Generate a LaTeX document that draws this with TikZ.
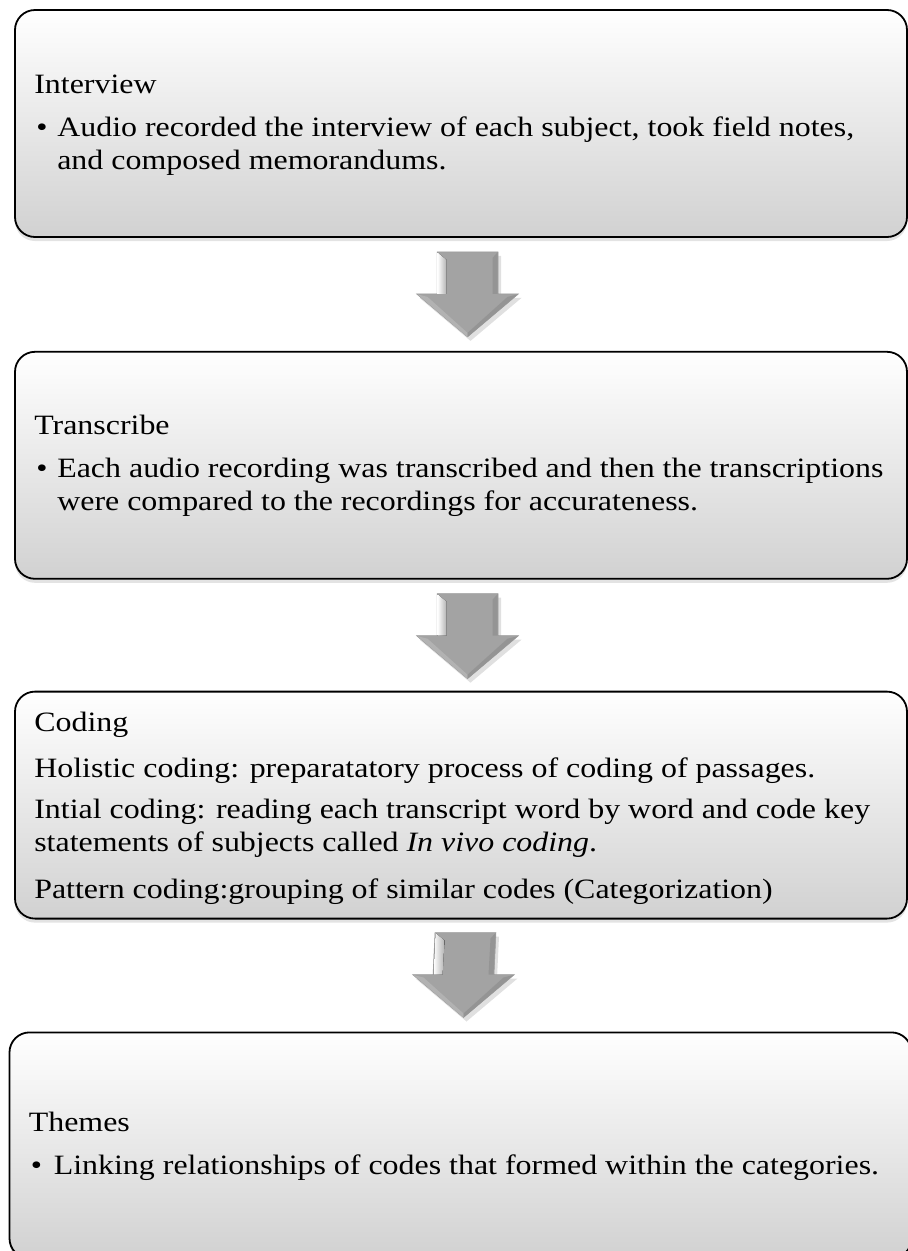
\documentclass[tikz,border=0pt]{standalone}
\usepackage{fontspec}
\setmainfont[FakeStretch=1.14]{Liberation Serif}
\usetikzlibrary{positioning,calc,shadows}

\tikzset{
  stage/.style={draw=black, line width=1.8pt, rounded corners=20pt,
    minimum width=892pt, minimum height=227pt, inner sep=0pt,
    top color=white, middle color=white, bottom color=black!18,
    drop shadow={shadow xshift=0pt, shadow yshift=-4pt, opacity=0.22}},
  stagetext/.style={anchor=base west, inner sep=0pt, align=left,
    font=\fontsize{28}{33}\selectfont},
  arrowbody/.style={fill=black!36, draw=black!40, line width=0.5pt},
  arrowlight/.style={left color=white, right color=black!30},
  arrowdark/.style={fill=black!42},
  arrowshade/.style={fill=black, opacity=0.12}
}

% block arrow from shaft top (#1) to tip (#2)
\newcommand\blockarrow[2]{%
  \fill[arrowshade] ($(#1)+(-27.5,4)$) -- ($(#1)+(33.5,4)$) -- ($(#2)+(33.5,-39)$)
    -- ($(#2)+(54,-39)$) -- ($(#2)+(3,4)$) -- ($(#2)+(-48,-39)$) -- ($(#2)+(-27.5,-39)$) -- cycle;
  \path[arrowbody] ($(#1)+(-30.5,0)$) -- ($(#1)+(30.5,0)$) -- ($(#2)+(30.5,-43)$)
    -- ($(#2)+(51,-43)$) -- (#2) -- ($(#2)+(-51,-43)$) -- ($(#2)+(-30.5,-43)$) -- cycle;
  \fill[arrowlight] ($(#1)+(-30,0.5)$) -- ($(#1)+(-21,8)$) -- ($(#2)+(-21,-43)$) -- ($(#2)+(-30,-43)$) -- cycle;
  \fill[arrowdark] ($(#1)+(30,0.5)$) -- ($(#1)+(25,6)$) -- ($(#2)+(25,-43)$) -- ($(#2)+(30,-43)$) -- cycle;
  \fill[black!30] ($(#2)+(-50,-42.5)$) -- ($(#2)+(-40,-40)$) -- ($(#2)+(0,-4)$) -- (#2) -- cycle;
  \fill[black!42] ($(#2)+(50,-42.5)$) -- ($(#2)+(40,-40)$) -- ($(#2)+(0,-4)$) -- (#2) -- cycle;
}

\begin{document}
\begin{tikzpicture}[x=1pt,y=-1pt]
  \useasboundingbox (0,0) rectangle (908,1251);

  \node[stage] (interview) at (461,123.5) {};
  \node[stage, below=113pt of interview] (transcribe) {};
  \node[stage, below=111pt of transcribe] (coding) {};
  \node[stage, below=112pt of coding, xshift=-0.5pt, minimum width=902pt, minimum height=226pt] (themes) {};

  % Interview (multi-line texts sit on their last baseline)
  \node[stagetext] (interview-title) at ($(interview.north west)+(20,84)$) {Interview};
  \node[stagetext] (interview-dot) at ($(interview.north west)+(22,127)$) {\textbullet};
  \node[stagetext] (interview-item) at ($(interview.north west)+(43,160)$)
    {Audio recorded the interview of each subject, took field notes,\\and composed memorandums.};

  % Transcribe
  \node[stagetext] (transcribe-title) at ($(transcribe.north west)+(20,84)$) {Transcribe};
  \node[stagetext] (transcribe-dot) at ($(transcribe.north west)+(22,127)$) {\textbullet};
  \node[stagetext] (transcribe-item) at ($(transcribe.north west)+(43,160)$)
    {Each audio recording was transcribed and then the transcriptions\\were compared to the recordings for accurateness.};

  % Coding
  \node[stagetext] (coding-title) at ($(coding.north west)+(20,41)$) {Coding};
  \node[stagetext] (coding-holistic) at ($(coding.north west)+(20,87)$)
    {Holistic coding: preparatatory process of coding of passages.};
  \node[stagetext] (coding-initial) at ($(coding.north west)+(20,161)$)
    {Intial coding: reading each transcript word by word and code key\\statements of subjects called \textit{In vivo coding}.};
  \node[stagetext] (coding-pattern) at ($(coding.north west)+(20,208)$)
    {Pattern coding:grouping of similar codes (Categorization)};

  % Themes
  \node[stagetext] (themes-title) at ($(themes.north west)+(20,100)$) {Themes};
  \node[stagetext] (themes-dot) at ($(themes.north west)+(22,143)$) {\textbullet};
  \node[stagetext] (themes-item) at ($(themes.north west)+(45,143)$)
    {Linking relationships of codes that formed within the categories.};

  % arrows between stages
  \coordinate (a1-from) at ($(interview.south)+(6.5,14)$);
  \coordinate (a1-to) at ($(transcribe.north)+(6.5,-14)$);
  \coordinate (a2-from) at ($(transcribe.south)+(6.5,14)$);
  \coordinate (a2-to) at ($(coding.north)+(6.5,-12)$);
  \coordinate (a3-from) at ($(coding.south)+(4.5,13)$);
  \coordinate (a3-to) at ($(themes.north)+(3,-14)$);
  \blockarrow{a1-from}{a1-to}
  \blockarrow{a2-from}{a2-to}
  \blockarrow{a3-from}{a3-to}
\end{tikzpicture}
\end{document}
